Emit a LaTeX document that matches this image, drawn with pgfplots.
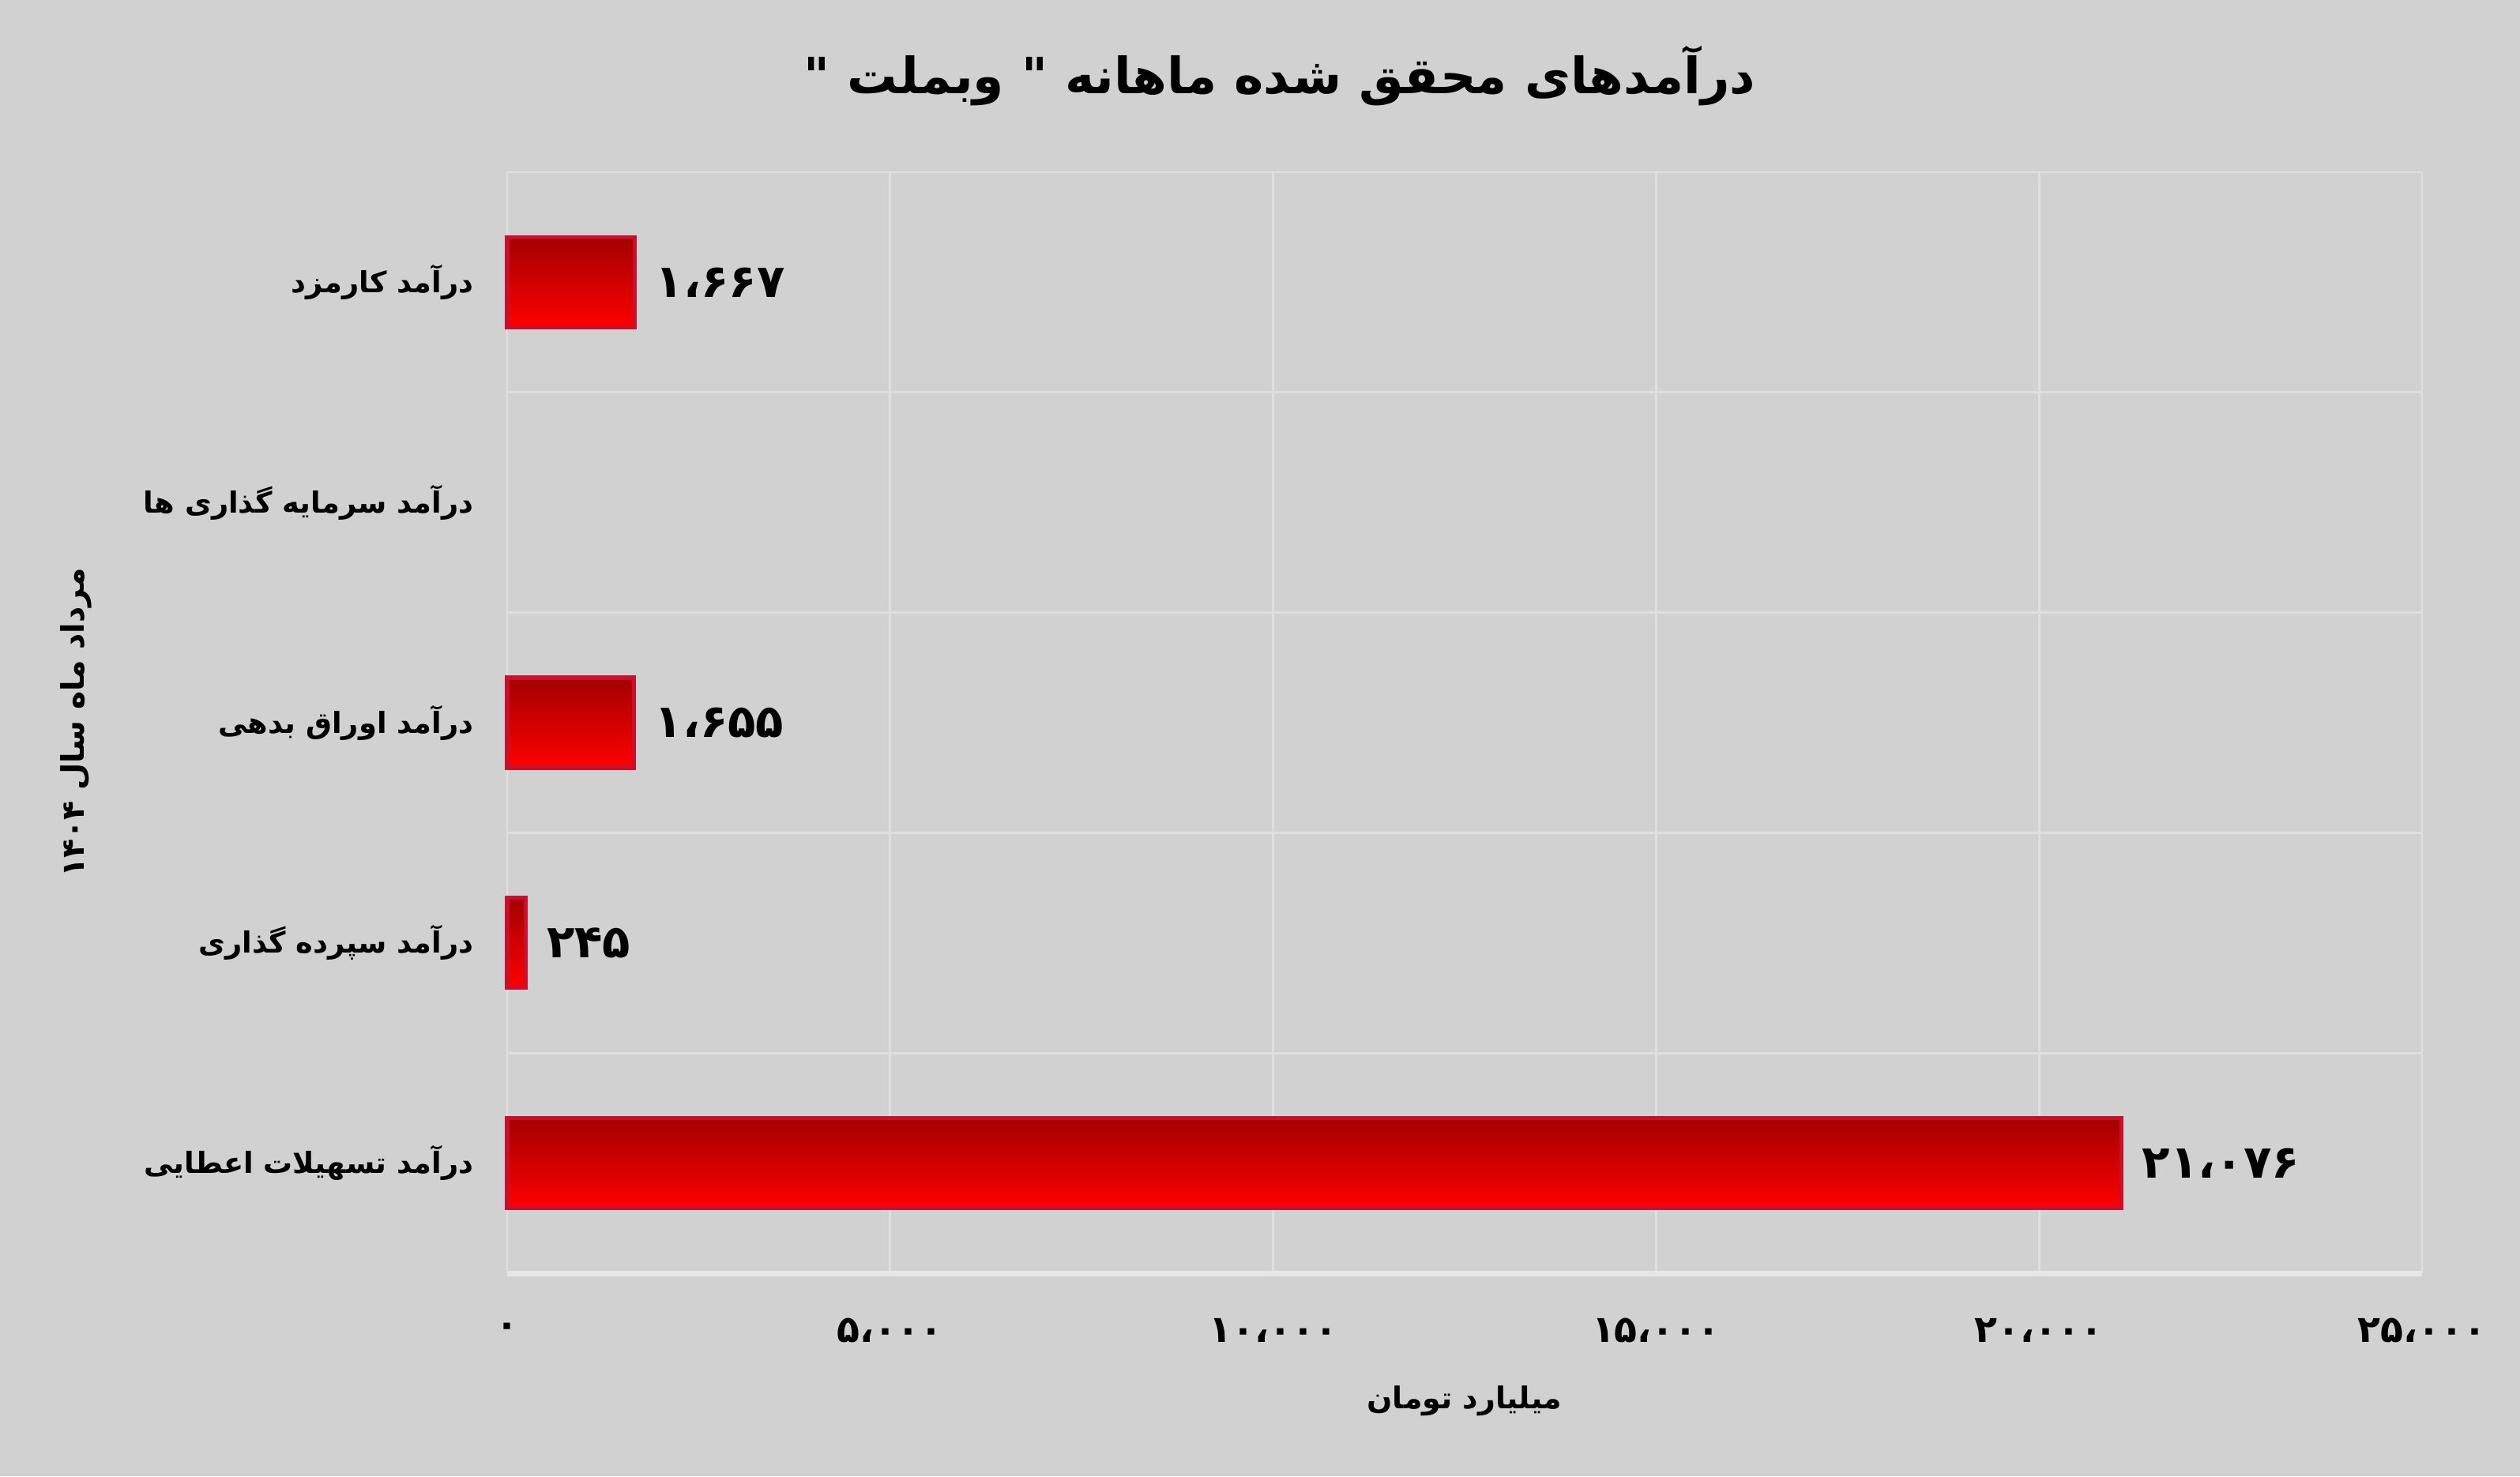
\documentclass[border=0pt]{standalone}
\usepackage{fontspec}
\usepackage{pgfplots}
\pgfplotsset{compat=1.18}
\setmainfont{DejaVu Sans}
\newfontfamily\arabicfont[Script=Arabic]{DejaVu Sans}
\TeXXeTstate=1
\definecolor{bg}{HTML}{D1D1D1}
\definecolor{gridc}{HTML}{DFDFDF}
\definecolor{axisc}{HTML}{E6E6E6}
\definecolor{barTop}{HTML}{A30000}
\definecolor{barBot}{HTML}{FF0000}
\definecolor{barEdge}{HTML}{C8102E}
\pgfplotsset{
  mybar/.style={xbar, bar shift=0pt, bar width=1.14cm, draw=barEdge, line width=1.5pt,
    top color=barTop, bottom color=barBot,
    nodes near coords, point meta=explicit symbolic,
    every node near coord/.append style={anchor=west, xshift=0.12cm, text=black,
      font=\arabicfont\bfseries\fontsize{16.5}{19}\selectfont}},
}
\begin{document}
\begin{tikzpicture}
\fill[bg] (0,0) rectangle (31.9,18.69);
\path[use as bounding box] (0,0) rectangle (31.9,18.69);
\node[font=\arabicfont\bfseries\fontsize{18}{22}\selectfont] at (16.2,17.73) {\beginR درآمدهای محقق شده ماهانه " وبملت "\endR};
\begin{axis}[
  at={(6.42cm,2.57cm)}, anchor=south west,
  scale only axis, width=24.24cm, height=13.94cm,
  xmin=0, xmax=25000, ymin=-0.5, ymax=4.5,
  scaled x ticks=false,
  xtick={0,5000,10000,15000,20000,25000},
  xticklabels={۰,۵،۰۰۰,۱۰،۰۰۰,۱۵،۰۰۰,۲۰،۰۰۰,۲۵،۰۰۰},
  ytick={0,1,2,3,4},
  yticklabels={
    {\beginR درآمد تسهیلات اعطایی\endR},
    {\beginR درآمد سپرده گذاری\endR},
    {\beginR درآمد اوراق بدهی\endR},
    {\beginR درآمد سرمایه گذاری ها\endR},
    {\beginR درآمد کارمزد\endR}},
  minor ytick={0.5,1.5,2.5,3.5},
  xmajorgrids, yminorgrids,
  major grid style={gridc, line width=0.8pt},
  minor grid style={gridc, line width=0.8pt},
  major tick length=0pt, minor tick length=0pt,
  axis x line*=bottom, axis y line*=left,
  x axis line style={axisc, line width=2pt, -},
  y axis line style={gridc, line width=0.8pt, -},
  xticklabel style={font=\arabicfont\bfseries\fontsize{13.5}{15}\selectfont, anchor=center, yshift=-0.72cm},
  yticklabel style={font=\arabicfont\bfseries\fontsize{10.5}{13}\selectfont, anchor=east, xshift=-0.3cm},
  xlabel={\beginR میلیارد تومان\endR},
  xlabel style={font=\arabicfont\bfseries\fontsize{10.8}{13}\selectfont, at={(axis description cs:0.5,-0.1162)}, anchor=center},
  ylabel={\beginR مرداد ماه سال ۱۴۰۴\endR},
  ylabel style={font=\arabicfont\bfseries\fontsize{11.25}{13}\selectfont, at={(axis description cs:-0.2252,0.5)}, anchor=center},
  clip=false,
]
\draw[gridc, line width=0.8pt] (rel axis cs:0,1) -- (rel axis cs:1,1) -- (rel axis cs:1,0);
\addplot[mybar] coordinates {(21076,0) [۲۱،۰۷۶]};
\addplot[mybar] coordinates {(245,1) [۲۴۵]};
\addplot[mybar] coordinates {(1655,2) [۱،۶۵۵]};
\addplot[xbar, bar shift=0pt, bar width=1.14cm, draw=none, fill=none] coordinates {(0,3)};
\addplot[mybar] coordinates {(1667,4) [۱،۶۶۷]};
\end{axis}
\end{tikzpicture}
\end{document}
